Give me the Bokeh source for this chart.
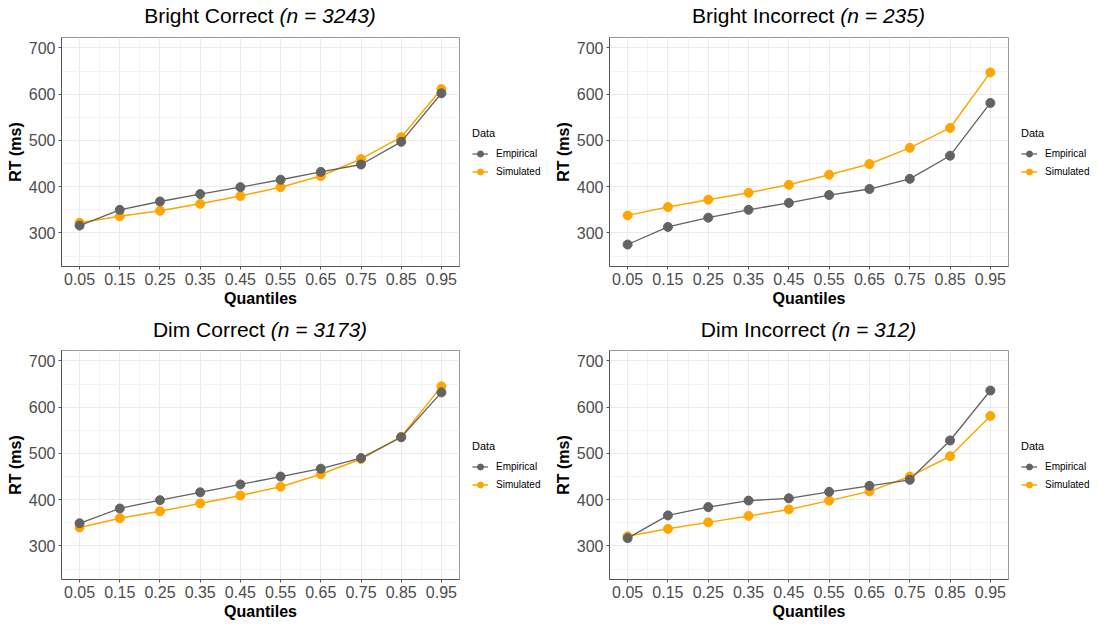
from bokeh.plotting import figure
from bokeh.models import (FixedTicker, Legend, LegendItem, Range1d, Div)
from bokeh.layouts import column, row
from bokeh.embed import file_html
from bokeh.resources import INLINE

quantiles = [0.05, 0.15, 0.25, 0.35, 0.45, 0.55, 0.65, 0.75, 0.85, 0.95]
minor_q = [0.1, 0.2, 0.3, 0.4, 0.5, 0.6, 0.7, 0.8, 0.9]
y_ticks = [300, 400, 500, 600, 700]
y_minor = [250, 350, 450, 550, 650]

bc_emp = [316, 350, 368, 384, 399, 415, 432, 448, 497, 602]
bc_sim = [322, 336, 348, 363, 380, 399, 423, 460, 507, 611]
bi_emp = [275, 313, 333, 350, 365, 382, 395, 417, 467, 581]
bi_sim = [338, 356, 372, 387, 404, 426, 449, 484, 527, 647]
dc_emp = [349, 381, 399, 416, 433, 450, 467, 490, 535, 632]
dc_sim = [340, 360, 375, 392, 409, 428, 455, 488, 536, 645]
di_emp = [317, 366, 384, 398, 403, 417, 430, 443, 528, 636]
di_sim = [321, 337, 351, 365, 379, 398, 418, 450, 494, 581]

titles = [("Bright Correct", "(n = 3243)"), ("Bright Incorrect", "(n = 235)"),
          ("Dim Correct", "(n = 3173)"), ("Dim Incorrect", "(n = 312)")]
series = [(bc_emp, bc_sim), (bi_emp, bi_sim), (dc_emp, dc_sim), (di_emp, di_sim)]
legend_labels = ["Empirical", "Simulated"]
colors = ["#636363", "#FFA500"]
line_widths = [1.3, 1.5]

FONT = "Liberation Sans"
FRAME_H = 229
NAN = float("nan")

layout_spec = [
    dict(left=61, frame_w=398, leg_w=91, top=7, bottom=48, div_h=30, leg_y=87),
    dict(left=58, frame_w=399, leg_w=91, top=7, bottom=48, div_h=30, leg_y=87),
    dict(left=61, frame_w=398, leg_w=91, top=7, bottom=43, div_h=29, leg_y=87),
    dict(left=58, frame_w=399, leg_w=91, top=7, bottom=43, div_h=29, leg_y=87),
]


def style_axis(ax):
    ax.axis_line_color = "#555555"
    ax.major_tick_line_color = "#555555"
    ax.major_tick_out = 3
    ax.major_tick_in = 0
    ax.minor_tick_line_color = None
    ax.major_label_text_font = FONT
    ax.major_label_text_font_size = "16px"
    ax.major_label_text_color = "#4D4D4D"
    ax.major_label_standoff = 2
    ax.axis_label_text_font = FONT
    ax.axis_label_text_font_size = "16px"
    ax.axis_label_text_font_style = "bold"
    ax.axis_label_text_color = "black"
    ax.axis_label_standoff = 2


cells = []
for i in range(4):
    spec = layout_spec[i]
    fig_h = spec["top"] + FRAME_H + spec["bottom"]
    main_w = spec["left"] + spec["frame_w"] + 1
    p = figure(width=main_w, height=fig_h, output_backend="svg",
               toolbar_location=None, tools="",
               x_range=Range1d(0.005, 0.995), y_range=Range1d(227.5, 722.5),
               min_border_left=spec["left"], min_border_right=1,
               min_border_top=spec["top"], min_border_bottom=spec["bottom"])
    p.background_fill_color = "white"
    p.border_fill_color = "white"
    p.outline_line_color = "#999999"
    p.outline_line_width = 1

    p.xaxis.ticker = FixedTicker(ticks=quantiles, minor_ticks=minor_q)
    p.yaxis.ticker = FixedTicker(ticks=y_ticks, minor_ticks=y_minor)
    style_axis(p.xaxis[0])
    style_axis(p.yaxis[0])
    p.xaxis.axis_label = "Quantiles"
    p.yaxis.axis_label = "RT (ms)"

    for g in (p.xgrid[0], p.ygrid[0]):
        g.grid_line_color = "#EBEBEB"
        g.grid_line_width = 1
        g.minor_grid_line_color = "#F3F3F3"
        g.minor_grid_line_width = 1

    emp, sim = series[i]
    for idx in (1, 0):
        vals = [emp, sim][idx]
        p.line(quantiles, vals, line_color=colors[idx], line_width=line_widths[idx])
        p.scatter(quantiles, vals, size=9, fill_color=colors[idx], line_color=colors[idx])

    # legend panel (separate small figure so the legend sits right of the plot)
    lf = figure(width=spec["leg_w"], height=fig_h, output_backend="svg",
                toolbar_location=None, tools="",
                x_range=Range1d(0, 1), y_range=Range1d(0, 1),
                x_axis_type=None, y_axis_type=None,
                min_border=0, min_border_left=0, min_border_right=0,
                min_border_top=0, min_border_bottom=0)
    lf.outline_line_color = None
    lf.xgrid.visible = False
    lf.ygrid.visible = False
    lf.background_fill_color = "white"
    lf.border_fill_color = "white"
    items = []
    for idx in (0, 1):
        ln = lf.line([NAN, NAN], [NAN, NAN], line_color=colors[idx],
                     line_width=line_widths[idx])
        sc = lf.scatter([NAN], [NAN], size=7, fill_color=colors[idx],
                        line_color=colors[idx])
        items.append(LegendItem(label=legend_labels[idx], renderers=[ln, sc], index=0))

    pad = 5
    legend = Legend(items=items, title="Data",
                    location=(17 - pad, spec["leg_y"]),
                    margin=0, padding=pad, spacing=3,
                    glyph_width=16, glyph_height=15, label_height=15,
                    label_standoff=8,
                    label_text_font=FONT, label_text_font_size="10px",
                    label_text_color="black",
                    title_text_font=FONT, title_text_font_size="11px",
                    title_text_font_style="normal", title_text_color="black",
                    title_standoff=7,
                    border_line_color=None, background_fill_alpha=0)
    lf.add_layout(legend, "center")

    t1, t2 = titles[i]
    cell_w = main_w + spec["leg_w"]
    html = (f'<div style="width:{spec["frame_w"]}px; margin-left:{spec["left"]}px; '
            f'text-align:center; font-family:\'{FONT}\'; font-size:21px; '
            f'line-height:15px; padding-top:8px; color:black; '
            f'white-space:nowrap;">{t1} <i>{t2}</i></div>')
    div = Div(text=html, width=cell_w, height=spec["div_h"],
              styles={"margin": "0", "padding": "0", "overflow": "visible"})
    cells.append(column(div, row(p, lf, spacing=0), spacing=0))

page = column(row(cells[0], cells[1], spacing=0), row(cells[2], cells[3], spacing=0),
              spacing=0)

open("out.html", "w").write(file_html(page, INLINE))
